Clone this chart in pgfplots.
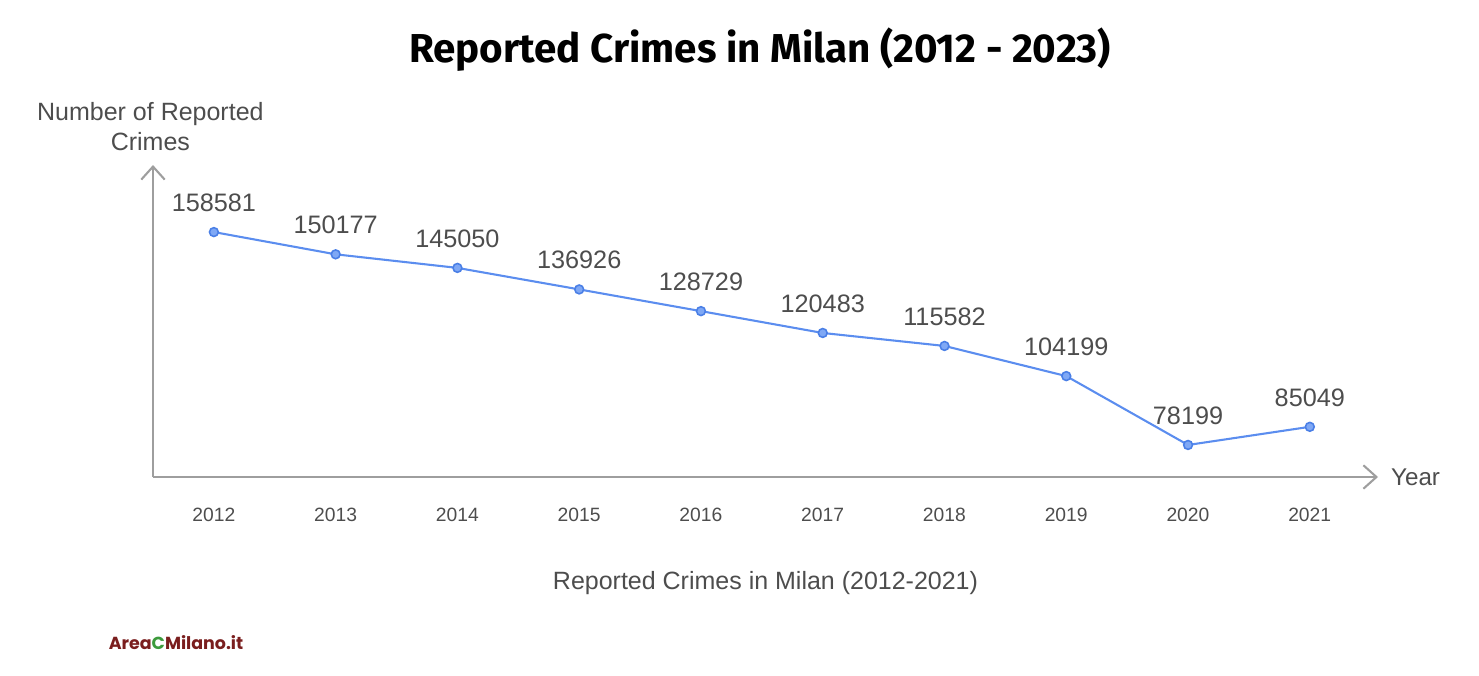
\documentclass[border=0pt]{standalone}
\usepackage{pgfplots}
\pgfplotsset{compat=1.18}
\usepackage{fontspec}
\setmainfont{Liberation Sans}
\newfontfamily\titlefont{Fira Sans}
\newfontfamily\logofont{Poppins}
\usetikzlibrary{arrows.meta}
\definecolor{linecol}{HTML}{5B8DEF}
\definecolor{markfill}{HTML}{7FA8F5}
\definecolor{markdraw}{HTML}{4A7FE6}
\definecolor{txtgray}{HTML}{4D4D4D}
\definecolor{axgray}{HTML}{9E9E9E}
\definecolor{logored}{HTML}{7A1E1E}
\definecolor{logogreen}{HTML}{3C9A3C}

\begin{document}
\begin{tikzpicture}
\path[use as bounding box] (0,0) rectangle (19.9665cm,9.1125cm);
\node[font=\titlefont\bfseries\fontsize{15.5}{18}\selectfont, text=black] at (10.26cm,8.4375cm)
  {Reported Crimes in Milan (2012 - 2023)};
\node[font=\logofont\bfseries\fontsize{6.7}{8}\selectfont, text=logored] at (2.376cm,0.432cm)
  {Area\textcolor{logogreen}{C}Milano.it};
\begin{axis}[
  at={(2.0655cm,2.673cm)}, anchor=south west,
  scale only axis, width=16.5375cm, height=4.212cm,
  xmin=2011.5, xmax=2021.56, ymin=66100, ymax=183900,
  axis lines=left,
  axis line style={axgray, line width=0.8pt, -{Straight Barb[length=5pt,width=9pt,line width=0.8pt]}},
  xtick={2012,...,2021}, ytick=\empty,
  major tick length=0pt,
  xticklabel style={font=\fontsize{7.4}{9}\selectfont, text=txtgray, yshift=-8.5pt},
  /pgf/number format/.cd, 1000 sep={}, assume math mode=true,
  /pgfplots/.cd,
  xlabel={Reported Crimes in Milan (2012-2021)},
  ylabel={Number of Reported\\Crimes},
  every axis x label/.style={at={(rel axis cs:0.5,0)}, anchor=center, yshift=-40.7pt,
    font=\fontsize{9.6}{11.5}\selectfont, text=txtgray},
  every axis y label/.style={at={(rel axis cs:0,1)}, anchor=center, yshift=14.6pt, xshift=-1pt,
    align=center, font=\fontsize{9.6}{11.5}\selectfont, text=txtgray},
  clip=false,
]
\addplot[linecol, line width=0.8pt, mark=*, mark size=1.7pt,
  mark options={draw=markdraw, fill=markfill, line width=0.6pt},
  point meta=explicit symbolic,
  nodes near coords={\pgfplotspointmeta},
  nodes near coords style={anchor=south, inner sep=0pt, yshift=7.5pt,
    font=\fontsize{9.7}{11}\selectfont, text=txtgray}]
  coordinates {
    (2012,158581)[158581]
    (2013,150177)[150177]
    (2014,145050)[145050]
    (2015,136926)[136926]
    (2016,128729)[128729]
    (2017,120483)[120483]
    (2018,115582)[115582]
    (2019,104199)[104199]
    (2020,78199)[78199]
    (2021,85049)[85049]
  };
\node[anchor=west, font=\fontsize{9.3}{11}\selectfont, text=txtgray, xshift=1.5pt]
  at (rel axis cs:1,0) {Year};
\end{axis}
\end{tikzpicture}
\end{document}
